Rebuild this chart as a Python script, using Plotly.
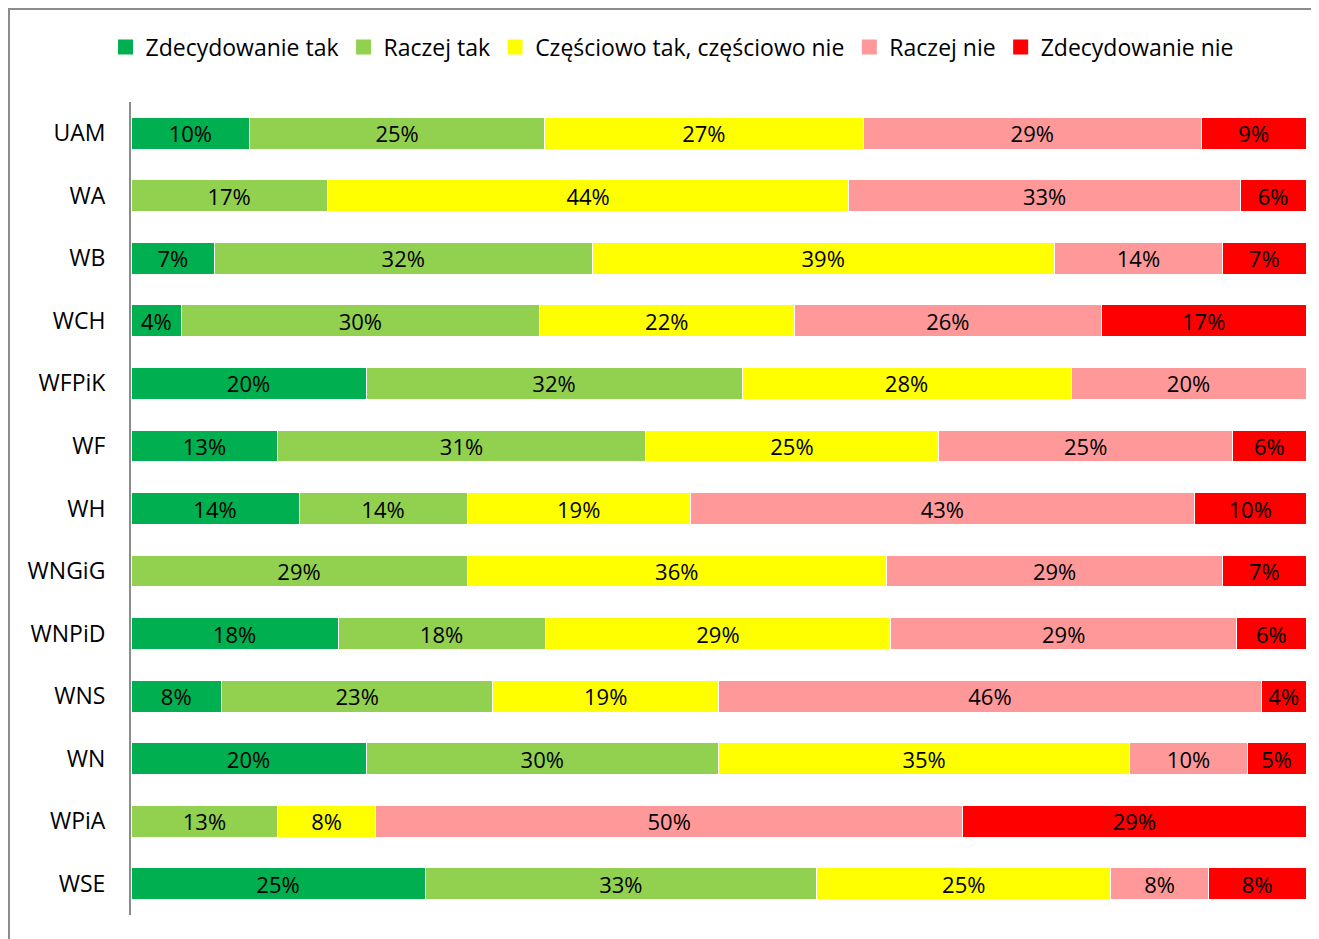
import plotly.graph_objects as go

categories = ["UAM", "WA", "WB", "WCH", "WFPiK", "WF", "WH", "WNGiG", "WNPiD", "WNS", "WN", "WPiA", "WSE"]
series_names = ["Zdecydowanie tak", "Raczej tak", "Częściowo tak, częściowo nie", "Raczej nie", "Zdecydowanie nie"]
colors = ["#00B050", "#92D050", "#FFFF00", "#FF9999", "#FF0000"]

zdecydowanie_tak = [10.1, 0, 7.1, 4.3, 20.0, 12.5, 14.3, 0, 17.6, 7.7, 20.0, 0, 25.0]
raczej_tak = [25.1, 16.7, 32.1, 30.4, 32.0, 31.25, 14.3, 28.6, 17.6, 23.1, 30.0, 12.5, 33.3]
czesciowo = [27.1, 44.4, 39.3, 21.7, 28.0, 25.0, 19.0, 35.7, 29.4, 19.2, 35.0, 8.3, 25.0]
raczej_nie = [28.8, 33.3, 14.3, 26.1, 20.0, 25.0, 42.9, 28.6, 29.4, 46.2, 10.0, 50.0, 8.3]
zdecydowanie_nie = [8.9, 5.6, 7.1, 17.4, 0, 6.25, 9.5, 7.1, 5.9, 3.8, 5.0, 29.2, 8.3]

series_values = [zdecydowanie_tak, raczej_tak, czesciowo, raczej_nie, zdecydowanie_nie]

FONT = "Open Sans"
W, H = 1311, 931
ML, MR, MT, MB = 123, 13, 94, 24
PW, PH = W - ML - MR, H - MT - MB

fig = go.Figure()
for name, vals, col in zip(series_names, series_values, colors):
    labels = [f"{int(v + 0.5)}%" if v > 0 else "" for v in vals]
    fig.add_trace(go.Bar(
        y=categories, x=vals, name=name, orientation="h",
        marker=dict(color=col, line=dict(color="white", width=1)),
        text=labels, textposition="inside", insidetextanchor="middle",
        textangle=0, constraintext="none",
        textfont=dict(family=FONT, size=22, color="black"),
        hoverinfo="skip", showlegend=False,
    ))
# legend entries with larger square symbols
for name, col in zip(series_names, colors):
    fig.add_trace(go.Scatter(
        x=[None], y=[None], mode="markers", name=name,
        marker=dict(symbol="square", size=15, color=col), hoverinfo="skip",
    ))

fig.update_layout(
    barmode="stack", barnorm="percent",
    width=W, height=H,
    margin=dict(l=ML, r=MR, t=MT, b=MB),
    paper_bgcolor="white", plot_bgcolor="white",
    bargap=0.49,
    font=dict(family=FONT, size=23, color="black"),
    legend=dict(orientation="h", x=(672 - 8 - ML) / PW, xanchor="center",
                y=(H - MB - 39) / PH, yanchor="middle",
                font=dict(family=FONT, size=23, color="black"), traceorder="normal",
                itemwidth=30),
    xaxis=dict(range=[0, 100], visible=False, showgrid=False, zeroline=False),
    yaxis=dict(categoryorder="array", categoryarray=categories[::-1], showgrid=False,
               showline=True, linecolor="#8c8c8c", linewidth=2, ticks="",
               ticklabelstandoff=19, tickfont=dict(family=FONT, size=23, color="black")),
    shapes=[dict(type="rect", xref="paper", yref="paper",
                 x0=(1 - ML) / PW, x1=1.08, y0=-0.1, y1=(H - MB - 1) / PH,
                 line=dict(color="#8c8c8c", width=2), fillcolor="rgba(0,0,0,0)", layer="below")],
)

fig.write_html("out.html")
